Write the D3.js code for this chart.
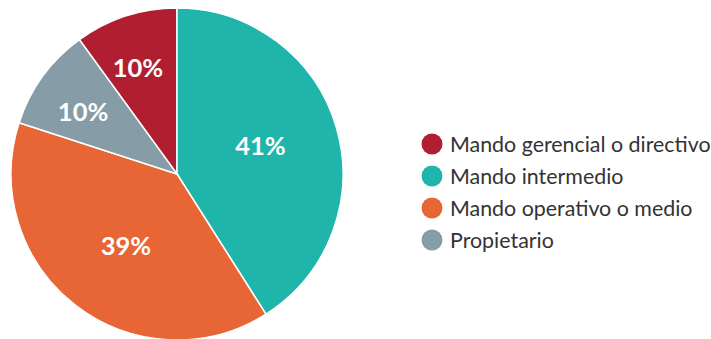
<!DOCTYPE html>
<html><head><meta charset="utf-8">
<script src="https://cdn.jsdelivr.net/npm/d3@7"></script>
<style>body{margin:0;background:#fff;} svg{display:block;}</style>
</head><body>
<svg id="chart" width="711" height="339"></svg>
<script>
const categories = ["Mando gerencial o directivo", "Mando intermedio", "Mando operativo o medio", "Propietario"];
const values = [10, 41, 39, 10];
const colors = ["#B01F31", "#1FB5AA", "#E86535", "#869CA6"];
// drawing order clockwise from 12 o'clock
const drawOrder = [1, 2, 3, 0];

const svg = d3.select("#chart");
const cx = 177, cy = 174, R = 166;
const g = svg.append("g").attr("transform", `translate(${cx},${cy})`);

const pie = d3.pie().value(d => d.v)
  .sort((a, b) => drawOrder.indexOf(a.i) - drawOrder.indexOf(b.i));
const data = values.map((v, i) => ({v, i, name: categories[i]}));
const arcs = pie(data);
const arc = d3.arc().innerRadius(0).outerRadius(R);

g.selectAll("path").data(arcs).join("path")
  .attr("d", arc)
  .attr("fill", d => colors[d.data.i])
  .attr("stroke", "#fff").attr("stroke-width", 1.5);

g.selectAll("text.lbl").data(arcs).join("text")
  .attr("class", "lbl")
  .each(function(d) {
    const frac = (d.endAngle - d.startAngle) / (2 * Math.PI);
    const r = frac < 0.15 ? R * 0.68 : R * 0.53;
    const a = (d.startAngle + d.endAngle) / 2 - 0.04;
    d3.select(this).attr("x", r * Math.sin(a)).attr("y", -r * Math.cos(a));
  })
  .attr("text-anchor", "middle").attr("dy", "0.36em")
  .attr("fill", "#fff")
  .attr("font-family", "Lato").attr("font-weight", "bold").attr("font-size", 25.5)
  .text(d => d.data.v + "%");

const legend = svg.append("g").attr("transform", "translate(432,144)");
const row = legend.selectAll("g").data(data).join("g")
  .attr("transform", (d, i) => `translate(0,${i * 32})`);
row.append("circle").attr("r", 10.5).attr("fill", d => colors[d.i]);
row.append("text").attr("x", 18).attr("dy", "0.35em")
  .attr("font-family", "Lato").attr("font-size", 21.4).attr("fill", "#333")
  .text(d => d.name);
</script>
</body></html>
